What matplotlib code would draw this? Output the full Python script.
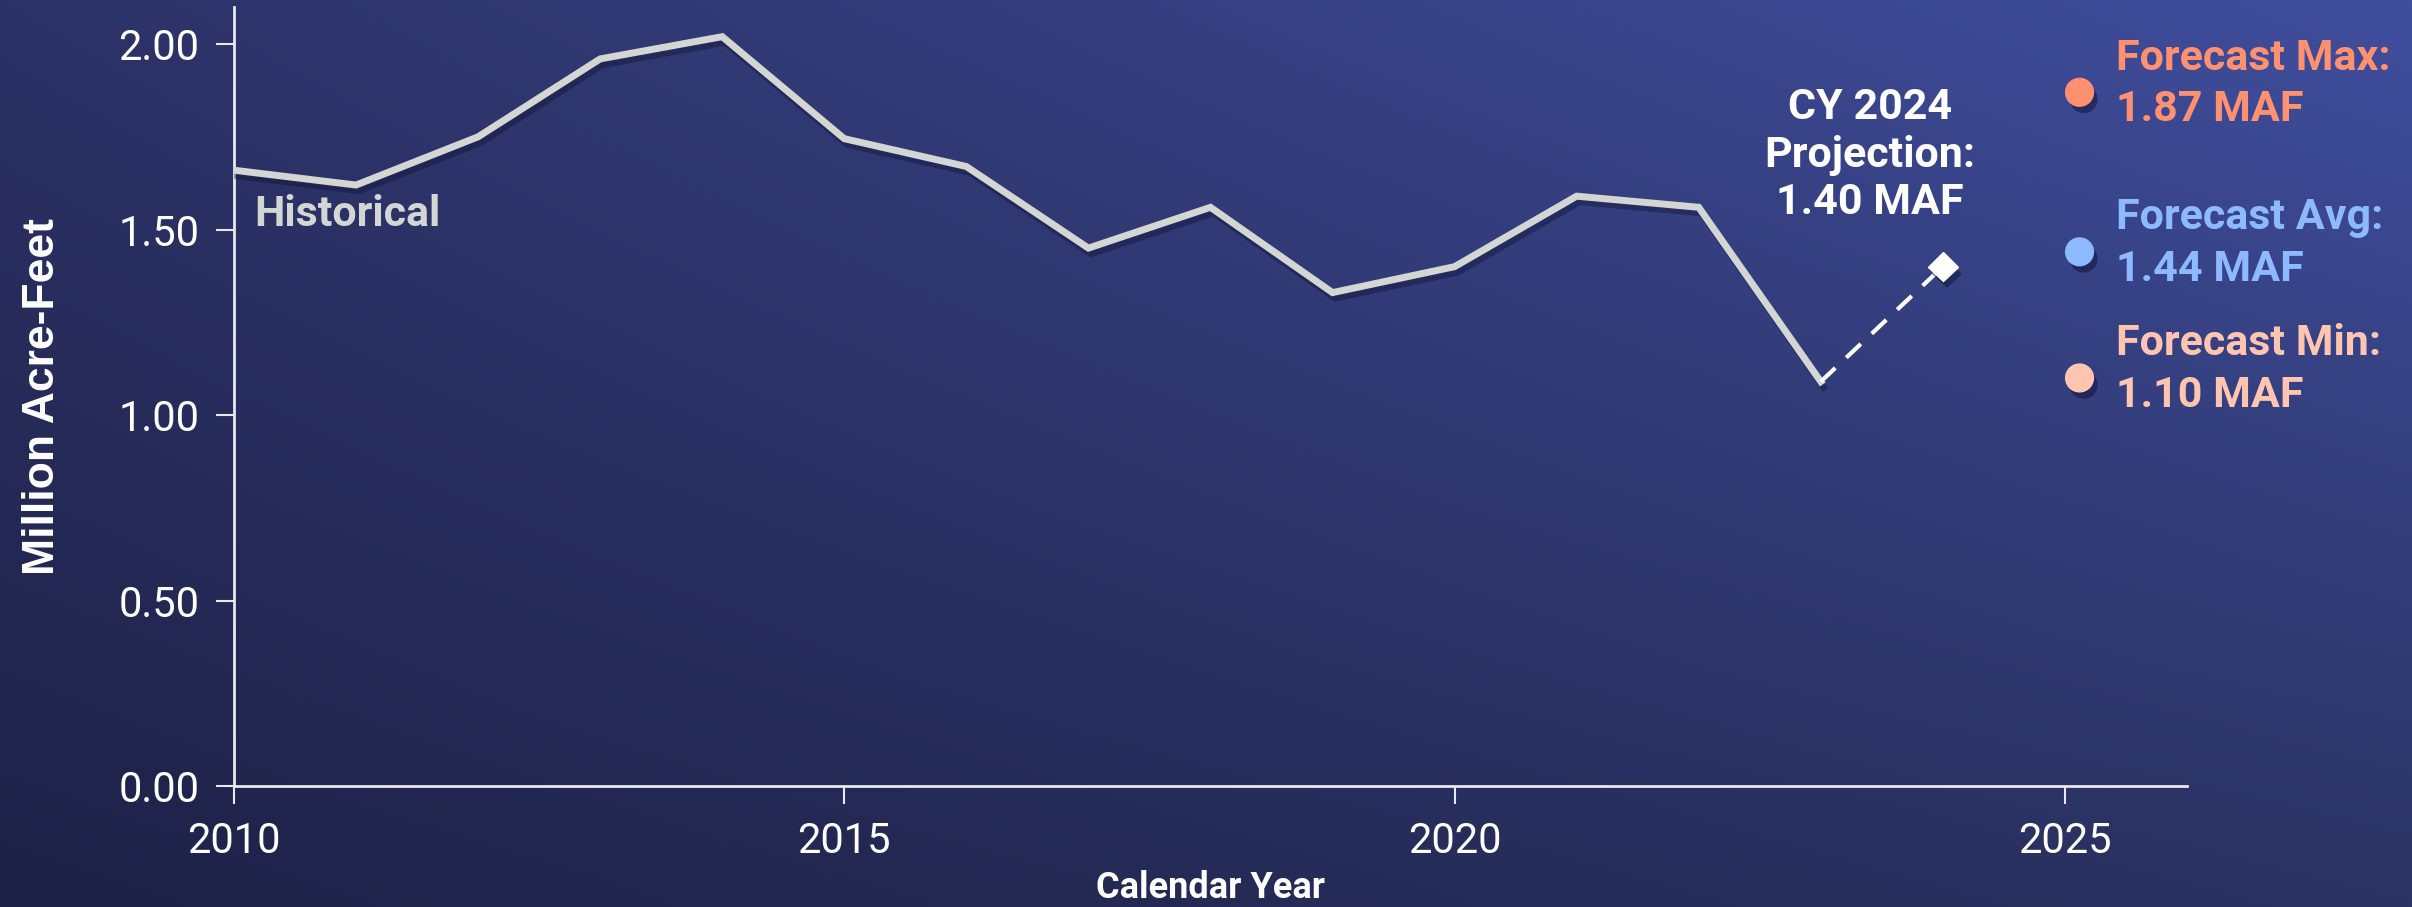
import numpy as np
import matplotlib.pyplot as plt
import matplotlib.patheffects as pe
from matplotlib.colors import to_rgb

# Historical flow (million acre-feet)
years = [2010, 2011, 2012, 2013, 2014, 2015, 2016, 2017, 2018, 2019, 2020, 2021, 2022, 2023]
flow = [1.66, 1.62, 1.75, 1.96, 2.02, 1.745, 1.67, 1.45, 1.56, 1.33, 1.40, 1.59, 1.56, 1.09]

# CY 2024 projection
proj_year = 2024
proj_value = 1.40

# forecast range
fc_labels = ["Forecast Max:", "Forecast Avg:", "Forecast Min:"]
fc_values = [1.87, 1.44, 1.10]
fc_colors = ["#ff9170", "#8cb9ff", "#ffc5b1"]

yticks = [0.0, 0.5, 1.0, 1.5, 2.0]
xticks = [2010, 2015, 2020, 2025]

plt.rcParams['font.family'] = ['Roboto', 'DejaVu Sans']

fig = plt.figure(figsize=(24.12, 9.07), dpi=100)

# diagonal gradient background
bg = fig.add_axes([0, 0, 1, 1])
tl, tr = np.array(to_rgb("#2c3266")), np.array(to_rgb("#404e9e"))
bl, br = np.array(to_rgb("#1e2147")), np.array(to_rgb("#2b3363"))
u = np.linspace(0, 1, 300)[None, :, None]
v = np.linspace(0, 1, 120)[:, None, None]
img = (1 - v) * ((1 - u) * tl + u * tr) + v * ((1 - u) * bl + u * br)
bg.imshow(img, aspect='auto', extent=[0, 1, 0, 1], interpolation='bilinear')
bg.axis('off')

ax = fig.add_axes([0.097, 0.1334, 0.8097, 0.8589])
ax.patch.set_alpha(0)

shadow = [pe.SimpleLineShadow(offset=(2, -4), shadow_color='#0d1030', alpha=0.4), pe.Normal()]
dot_shadow = [pe.SimplePatchShadow(offset=(3, -5), shadow_rgbFace='#0d1030', alpha=0.5), pe.Normal()]

ax.plot(years, flow, color='#d3d6d3', lw=5, solid_joinstyle='miter',
        path_effects=shadow, zorder=3)
dash, = ax.plot([years[-1], proj_year], [flow[-1], proj_value], color='white', lw=3, zorder=3)
dash.set_dashes([4.8, 3.6])
ax.plot([proj_year], [proj_value], marker='D', ms=15, color='white', mec='white',
        path_effects=dot_shadow, zorder=4)

for lab, val, col in zip(fc_labels, fc_values, fc_colors):
    ax.plot([2025.12], [val], 'o', ms=20, color=col, mec=col,
            path_effects=dot_shadow, zorder=4, clip_on=False)
    ax.annotate(f"{lab}\n{val:.2f} MAF", xy=(2025.42, val), xytext=(0, 6),
                textcoords='offset points', color=col, fontsize=31, fontweight='bold',
                va='center', ha='left', linespacing=1.32)

ax.text(2010.17, 1.54, "Historical", color='#d3d6d3', fontsize=31, fontweight='bold',
        va='center', ha='left')
ax.text(2023.4, 1.70, f"CY {proj_year}\nProjection:\n{proj_value:.2f} MAF", color='white',
        fontsize=31, fontweight='bold', ha='center', va='center', linespacing=1.2)

ax.set_xlim(2010, 2026)
ax.set_ylim(0, 2.1)
ax.set_xticks(xticks)
ax.set_yticks(yticks)
ax.set_yticklabels([f"{t:.2f}" for t in yticks])
for s in ['top', 'right']:
    ax.spines[s].set_visible(False)
for s in ['left', 'bottom']:
    ax.spines[s].set_color('#e8e8ee')
    ax.spines[s].set_linewidth(2)
ax.tick_params(colors='#e8e8ee', labelcolor='white', labelsize=30, length=13, width=1.5, pad=12)

ax.set_xlabel("Calendar Year", color='white', fontsize=26, fontweight='bold', labelpad=6)
ax.set_ylabel("Million Acre-Feet", color='white', fontsize=32, fontweight='bold', labelpad=40,
              fontfamily=['Liberation Sans', 'DejaVu Sans'])

fig.savefig("out.png", dpi=100)
